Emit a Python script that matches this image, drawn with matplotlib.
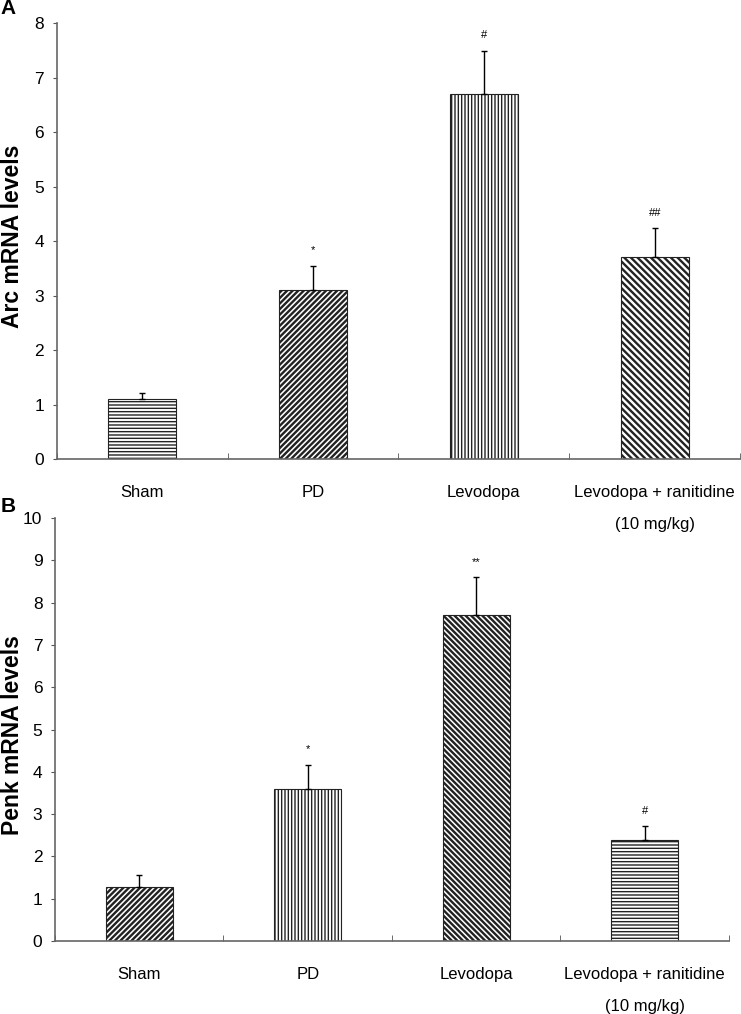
import matplotlib
matplotlib.use('Agg')
import matplotlib.pyplot as plt
import numpy as np

plt.rcParams['font.family'] = ['Liberation Sans', 'DejaVu Sans']
plt.rcParams['hatch.linewidth'] = 1.1

groups = ['Sham', 'PD', 'Levodopa', 'Levodopa + ranitidine\n(10 mg/kg)']

arc_mean = [1.1, 3.1, 6.7, 3.7]
arc_err = [0.12, 0.45, 0.78, 0.53]
arc_marks = ['', '*', '#', '##']
arc_hatch = ['-----', '//////', '|||||', '\\\\\\\\\\']

penk_mean = [1.28, 3.6, 7.7, 2.38]
penk_err = [0.27, 0.57, 0.9, 0.33]
penk_marks = ['', '*', '**', '#']
penk_hatch = ['//////', '|||||', '\\\\\\\\\\\\', '-----']


def draw_panel(ax, means, errs, marks, hatches, ymax):
    x = np.arange(len(groups))
    bars = ax.bar(x, means, width=0.4, color='white', edgecolor='#222222',
                  hatch=hatches, linewidth=0.8, zorder=2)
    for b, h in zip(bars, hatches):
        if hasattr(b, 'set_hatch_linewidth'):
            b.set_hatch_linewidth(1.7 if h[0] in '/\\' else 1.0)
    ax.errorbar(x, means, yerr=[np.zeros(len(errs)), errs], fmt='none',
                ecolor='black', elinewidth=1, capsize=2.5, capthick=1,
                zorder=3)
    for xi, m, e, s in zip(x, means, errs, marks):
        if s:
            ax.text(xi, m + e + ymax * 0.025, s, ha='center', va='bottom',
                    fontsize=8)
    ax.set_xlim(-0.5, 3.5)
    ax.set_ylim(0, ymax)
    ax.set_yticks(range(0, ymax + 1))
    ax.set_xticks(x)
    ax.set_xticklabels(groups, fontsize=12, linespacing=2.4)
    ax.set_xticks(np.arange(-0.5, 4.0, 1.0), minor=True)
    ax.tick_params(axis='x', which='major', length=0, pad=19)
    ax.tick_params(axis='x', which='minor', direction='in', length=4,
                   color='#555555')
    ax.tick_params(axis='y', length=3, pad=6, labelsize=12.5,
                   color='#555555')
    for side in ['top', 'right']:
        ax.spines[side].set_visible(False)
    for side in ['left', 'bottom']:
        ax.spines[side].set_color('#666666')
        ax.spines[side].set_linewidth(1.2)
    ax.patch.set_visible(False)


fig = plt.figure(figsize=(7.41, 10.14), dpi=100)
ax1 = fig.add_axes([0.0765, 0.5473, 0.9225, 0.43])
ax2 = fig.add_axes([0.0742, 0.072, 0.9096, 0.417])

draw_panel(ax1, arc_mean, arc_err, arc_marks, arc_hatch, 8)
draw_panel(ax2, penk_mean, penk_err, penk_marks, penk_hatch, 10)

# panel letters and y labels
fig.text(0.001, 1 - 8 / 1014, 'A', fontsize=15, fontweight='bold',
         ha='left', va='center')
fig.text(0.001, 1 - 506 / 1014, 'B', fontsize=15, fontweight='bold',
         ha='left', va='center')
fig.text(0.002, 1 - 236 / 1014, 'Arc mRNA levels', rotation=90,
         fontsize=16.5, fontweight='bold', ha='left', va='center')
fig.text(0.002, 1 - 735 / 1014, 'Penk mRNA levels', rotation=90,
         fontsize=16.5, fontweight='bold', ha='left', va='center')

fig.savefig('out.png', dpi=100)
